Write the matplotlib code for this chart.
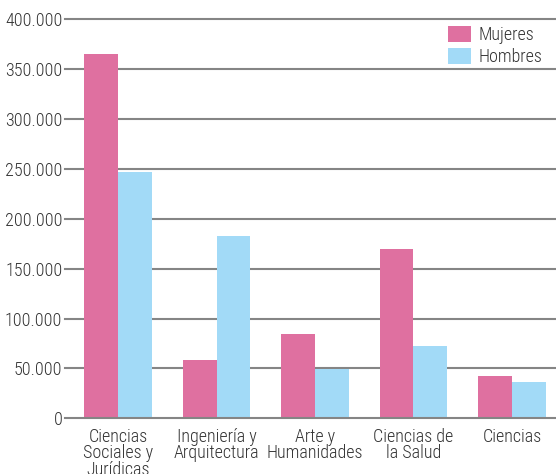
import numpy as np
import matplotlib
matplotlib.use("Agg")
import matplotlib.pyplot as plt
from matplotlib.ticker import FuncFormatter

# data
categories = ["Ciencias\nSociales y\nJurídicas", "Ingeniería y\nArquitectura",
              "Arte y\nHumanidades", "Ciencias de\nla Salud", "Ciencias"]
mujeres = [365300, 58800, 84700, 169700, 42600]
hombres = [246700, 182700, 49400, 72800, 36600]
yticks = [0, 50000, 100000, 150000, 200000, 250000, 300000, 350000, 400000]

PINK = "#df70a0"
BLUE = "#a2daf7"
GRID = "#858585"
TXT = "#333333"

plt.rcParams["font.family"] = ["Roboto Condensed", "DejaVu Sans"]
plt.rcParams["font.size"] = 13
plt.rcParams["font.weight"] = "light"

fig = plt.figure(figsize=(5.56, 4.74), dpi=100)
ax = fig.add_axes([0.117, 0.1175, 0.883, 0.8418])

x = np.arange(len(categories))
w = 0.345
ax.bar(x - w / 2, mujeres, w, color=PINK, label="Mujeres", zorder=3)
ax.bar(x + w / 2, hombres, w, color=BLUE, label="Hombres", zorder=3)

ax.set_xlim(-0.538, 4.447)
ax.set_ylim(0, 400000)
ax.set_yticks(yticks)
ax.yaxis.set_major_formatter(FuncFormatter(lambda v, p: f"{int(v):,}".replace(",", ".")))
for t in yticks:
    ax.axhline(t, color=GRID, lw=1.5, zorder=2 if t else 4, clip_on=False)

ax.set_xticks(x)
ax.set_xticklabels(categories, linespacing=0.88)
ax.tick_params(axis="both", length=0, labelcolor=TXT)
ax.tick_params(axis="y", pad=2)
ax.tick_params(axis="x", pad=7)
for s in ax.spines.values():
    s.set_visible(False)

leg = ax.legend(loc="upper right", bbox_to_anchor=(0.995, 1.01), frameon=False,
                handlelength=1.25, handleheight=1.0, handletextpad=0.45,
                labelspacing=0.2, borderaxespad=0.2)
for txt in leg.get_texts():
    txt.set_color(TXT)

fig.savefig("out.png", dpi=100)
